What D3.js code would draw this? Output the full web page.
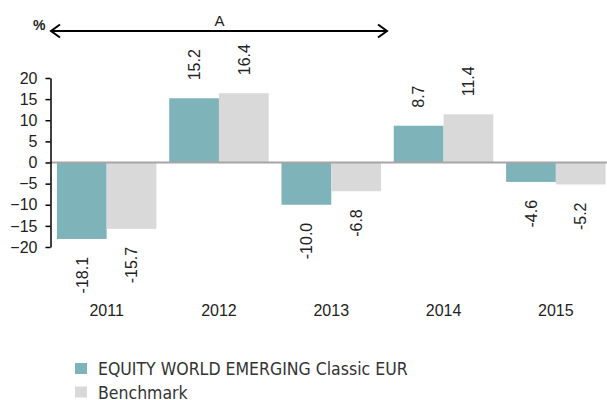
<!DOCTYPE html>
<html>
<head>
<meta charset="utf-8">
<script src="https://cdn.jsdelivr.net/npm/d3@7"></script>
<style>
  body { margin: 0; background: #fff; }
  text { font-family: "Liberation Sans", Arial, sans-serif; fill: #222; }
  .legend text { font-family: "Liberation Sans Narrow", "DejaVu Sans Condensed", sans-serif; fill: #333; }
</style>
</head>
<body>
<div id="chart"></div>
<script>
// data
const years = ["2011", "2012", "2013", "2014", "2015"];
const seriesNames = ["EQUITY WORLD EMERGING Classic EUR", "Benchmark"];
const fundValues = [-18.1, 15.2, -10.0, 8.7, -4.6];
const benchValues = [-15.7, 16.4, -6.8, 11.4, -5.2];
const yTicks = [20, 15, 10, 5, 0, -5, -10, -15, -20];
const colors = ["#7fb3ba", "#d9d9d9"];

const width = 607, height = 400;

const svg = d3.select("#chart")
  .append("svg")
    .attr("width", width)
    .attr("height", height);

// scales
const x0 = d3.scaleBand()
  .domain(years)
  .range([50.5, 612])
  .paddingInner(0.114)
  .paddingOuter(0.057);

const x1 = d3.scaleBand()
  .domain(seriesNames)
  .range([0, x0.bandwidth()])
  .padding(0);

const y = d3.scaleLinear()
  .domain([-20, 20])
  .range([247, 78]);

const rows = years.map((yr, i) => ({
  year: yr,
  vals: [
    {name: seriesNames[0], value: fundValues[i], c: colors[0]},
    {name: seriesNames[1], value: benchValues[i], c: colors[1]}
  ]
}));

// bars
const groups = svg.selectAll(".grp")
  .data(rows)
  .join("g")
    .attr("class", "grp")
    .attr("transform", d => `translate(${x0(d.year)},0)`);

groups.selectAll("rect")
  .data(d => d.vals)
  .join("rect")
    .attr("x", d => x1(d.name))
    .attr("y", d => y(Math.max(0, d.value)))
    .attr("width", x1.bandwidth())
    .attr("height", d => Math.abs(y(d.value) - y(0)))
    .attr("fill", d => d.c);

// value labels (rotated)
groups.selectAll("text.val")
  .data(d => d.vals)
  .join("text")
    .attr("class", "val")
    .attr("transform", d => {
      const cx = x1(d.name) + x1.bandwidth() / 2;
      const cy = d.value >= 0 ? y(d.value) - 18 : y(d.value) + 18;
      return `translate(${cx},${cy}) rotate(-90)`;
    })
    .attr("text-anchor", d => d.value >= 0 ? "start" : "end")
    .attr("dy", "0.36em")
    .style("font-size", "16px")
    .text(d => d.value.toFixed(1));

// zero line
svg.append("line")
  .attr("x1", 50.5).attr("x2", width)
  .attr("y1", y(0)).attr("y2", y(0))
  .attr("stroke", "#a6a6a6")
  .attr("stroke-width", 2);

// y axis
const yAxis = svg.append("g")
  .attr("transform", "translate(50.5,0)")
  .call(d3.axisLeft(y).tickValues(yTicks).tickSize(5).tickPadding(8).tickSizeOuter(0));
yAxis.select(".domain").attr("stroke", "#000").attr("stroke-width", 1.5);
yAxis.selectAll(".tick line").attr("stroke", "#000").attr("stroke-width", 1.5);
yAxis.selectAll(".tick text")
  .style("font-size", "16px")
  .style("font-family", "'Liberation Sans', Arial, sans-serif")
  .attr("fill", "#222");

// x labels
svg.selectAll(".xlab")
  .data(years)
  .join("text")
    .attr("class", "xlab")
    .attr("x", d => x0(d) + x0.bandwidth() / 2)
    .attr("y", 316)
    .attr("text-anchor", "middle")
    .style("font-size", "16px")
    .text(d => d);

// "%" unit
svg.append("text")
  .attr("x", 33).attr("y", 30)
  .style("font-size", "14px")
  .style("font-weight", "bold")
  .attr("fill", "#000")
  .text("%");

// double arrow with "A"
const ay = 31, ax1 = 51, ax2 = 387;
svg.append("line")
  .attr("x1", ax1).attr("x2", ax2)
  .attr("y1", ay).attr("y2", ay)
  .attr("stroke", "#000").attr("stroke-width", 2);
svg.append("path")
  .attr("d", `M${ax1 + 9},${ay - 6.5} L${ax1},${ay} L${ax1 + 9},${ay + 6.5}`)
  .attr("fill", "none").attr("stroke", "#000").attr("stroke-width", 2);
svg.append("path")
  .attr("d", `M${ax2 - 9},${ay - 6.5} L${ax2},${ay} L${ax2 - 9},${ay + 6.5}`)
  .attr("fill", "none").attr("stroke", "#000").attr("stroke-width", 2);
svg.append("text")
  .attr("x", 219.5).attr("y", 26)
  .attr("text-anchor", "middle")
  .style("font-size", "15px")
  .text("A");

// legend
const legend = svg.append("g").attr("class", "legend");
const li = legend.selectAll("g")
  .data(seriesNames)
  .join("g")
    .attr("transform", (d, i) => `translate(75,${363 + i * 23.5})`);
li.append("rect")
  .attr("width", 12).attr("height", 11)
  .attr("fill", (d, i) => colors[i]);
li.append("text")
  .attr("x", 23).attr("y", 12)
  .style("font-size", "17.5px")
  .text(d => d);
</script>
</body>
</html>
